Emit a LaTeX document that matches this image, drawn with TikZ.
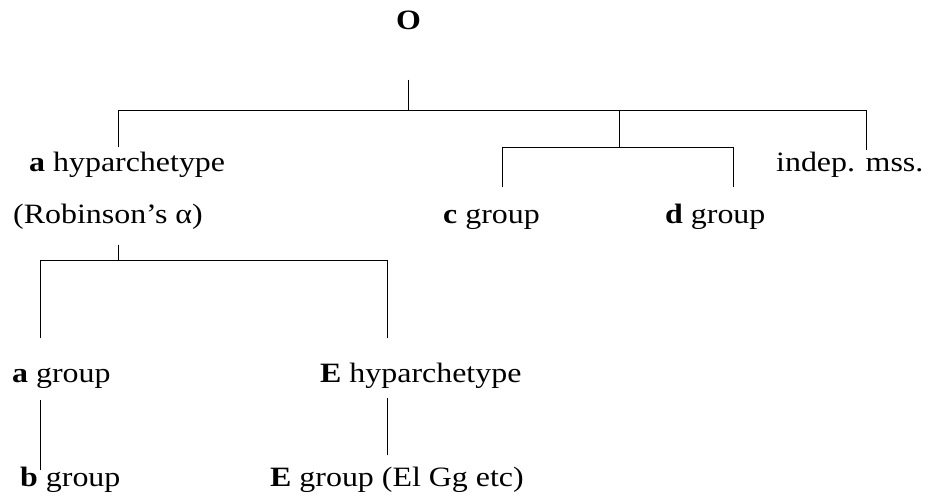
\documentclass[tikz,border=0pt]{standalone}
\usepackage{fontspec}
\setmainfont{Liberation Serif}[FakeStretch=1.14]
\begin{document}
\begin{tikzpicture}[x=1pt,y=-1pt,
  lbl/.style={anchor=base west, inner sep=0pt, font=\fontsize{28}{34}\selectfont},
  conn/.style={line width=0.9pt, line cap=rect}]
\useasboundingbox (0,0) rectangle (930,500);

% ---- labels ----
\node[lbl, anchor=base] (O) at (408.5,29.5) {\textbf{O}};
\node[lbl] (ahyp)  at (29,171.5)  {\textbf{a} hyparchetype};
\node[lbl] (indep) at (776,171.5) {indep. mss.};
\node[lbl] (robin) at (13,223)    {(Robinson’s α)};
\node[lbl] (cgrp)  at (443,223)   {\textbf{c} group};
\node[lbl] (dgrp)  at (665,223)   {\textbf{d} group};
\node[lbl] (agrp)  at (12,382.5)  {\textbf{a} group};
\node[lbl] (Ehyp)  at (320,382.5) {\textbf{E} hyparchetype};
\node[lbl] (bgrp)  at (20,486)    {\textbf{b} group};
\node[lbl] (Egrp)  at (270,486)   {\textbf{E} group (El Gg etc)};

% ---- junction points ----
\coordinate (Ostem)  at (408,80);
\coordinate (Obar)   at (408,110);
\coordinate (barL)   at (118,110);
\coordinate (barM)   at (619,110);
\coordinate (barR)   at (866,110);
\coordinate (ahypT)  at (118,147);
\coordinate (cdbar)  at (619,147);
\coordinate (cdL)    at (502,147);
\coordinate (cdR)    at (733,147);
\coordinate (cT)     at (502,187);
\coordinate (dT)     at (733,187);
\coordinate (indepT) at (866,150);

\coordinate (robB)   at (118,245);
\coordinate (robBar) at (118,260);
\coordinate (rbL)    at (40,260);
\coordinate (rbR)    at (387,260);
\coordinate (agrpT)  at (40,338);
\coordinate (EhypT)  at (387,338);

\coordinate (agrpB)  at (40,400);
\coordinate (bgrpT)  at (40,470);
\coordinate (EhypB)  at (387,398);
\coordinate (EgrpT)  at (387,455);

% ---- connectors ----
\draw[conn] (Ostem) -- (Obar);
\draw[conn] (barL) -- (barR);
\draw[conn] (barL) -- (ahypT);
\draw[conn] (barM) -- (cdbar);
\draw[conn] (barR) -- (indepT);
\draw[conn] (cdL) -- (cdR);
\draw[conn] (cdL) -- (cT);
\draw[conn] (cdR) -- (dT);

\draw[conn] (robB) -- (robBar);
\draw[conn] (rbL) -- (rbR);
\draw[conn] (rbL) -- (agrpT);
\draw[conn] (rbR) -- (EhypT);

\draw[conn] (agrpB) -- (bgrpT);
\draw[conn] (EhypB) -- (EgrpT);
\end{tikzpicture}
\end{document}
